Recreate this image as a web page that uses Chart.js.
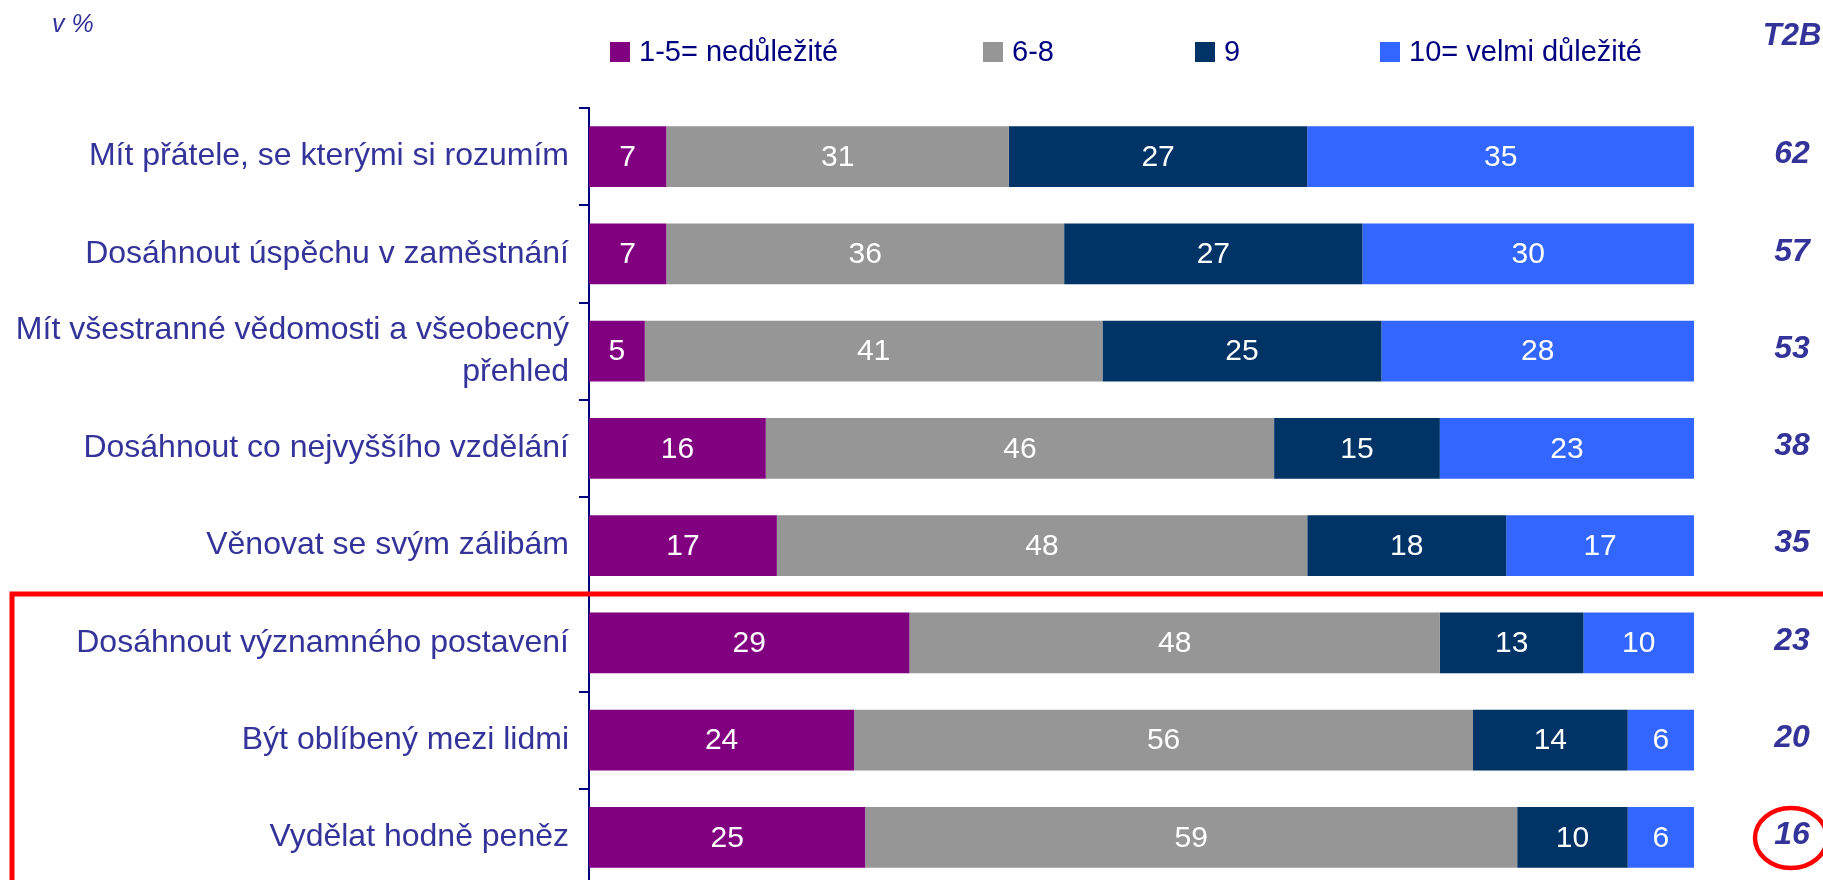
<!DOCTYPE html>
<html>
<head>
<meta charset="utf-8">
<script src="https://cdn.jsdelivr.net/npm/chart.js@4.4.1/dist/chart.umd.min.js"></script>
<style>
  html, body { margin: 0; padding: 0; background: #fff; }
  #wrap { position: relative; width: 1823px; height: 880px; overflow: hidden; }
  #myChart { position: absolute; left: 0; top: 0; }
</style>
</head>
<body>
<div id="wrap"><canvas id="myChart" width="1823" height="886"></canvas></div>
<script>
const categories = [
  'Mít přátele, se kterými si rozumím',
  'Dosáhnout úspěchu v zaměstnání',
  ['Mít všestranné vědomosti a všeobecný', 'přehled'],
  'Dosáhnout co nejvyššího vzdělání',
  'Věnovat se svým zálibám',
  'Dosáhnout významného postavení',
  'Být oblíbený mezi lidmi',
  'Vydělat hodně peněz'
];
const seriesNames = ['1-5= nedůležité', '6-8', '9', '10= velmi důležité'];
const low = [7, 7, 5, 16, 17, 29, 24, 25];
const mid = [31, 36, 41, 46, 48, 48, 56, 59];
const nine = [27, 27, 25, 15, 18, 13, 14, 10];
const ten = [35, 30, 28, 23, 17, 10, 6, 6];
const t2b = [62, 57, 53, 38, 35, 23, 20, 16];

const colors = ['#800080', '#969696', '#003366', '#3366FF'];
const font = "'Liberation Sans', Arial, sans-serif";

// 100% stacked: each row scaled to its own total
const series = [low, mid, nine, ten];
const totals = categories.map((c, i) => series.reduce((s, arr) => s + arr[i], 0));

const datasets = series.map((arr, k) => ({
  label: seriesNames[k],
  values: arr,
  data: arr.map((v, i) => v / totals[i] * 100),
  backgroundColor: colors[k],
  borderWidth: 0,
  barPercentage: 0.627,
  categoryPercentage: 1
}));

// value labels inside the bars
const barLabels = {
  id: 'barLabels',
  afterDatasetsDraw(chart) {
    const ctx = chart.ctx;
    ctx.save();
    ctx.fillStyle = '#fff';
    ctx.font = '30px ' + font;
    ctx.textAlign = 'center';
    ctx.textBaseline = 'middle';
    chart.data.datasets.forEach((ds, i) => {
      chart.getDatasetMeta(i).data.forEach((bar, j) => {
        ctx.fillText(ds.values[j], (bar.x + bar.base) / 2, bar.y + 1);
      });
    });
    ctx.restore();
  }
};

// legend, T2B column, note and red marks
const extras = {
  id: 'extras',
  afterDraw(chart) {
    const ctx = chart.ctx;
    ctx.save();

    const legendX = [610, 983, 1195, 1380];
    ctx.font = '29px ' + font;
    ctx.textBaseline = 'middle';
    ctx.textAlign = 'left';
    chart.data.datasets.forEach((ds, i) => {
      ctx.fillStyle = ds.backgroundColor;
      ctx.fillRect(legendX[i], 42, 20, 20);
      ctx.fillStyle = '#000080';
      ctx.fillText(ds.label, legendX[i] + 29, 53);
    });

    ctx.fillStyle = '#333399';
    ctx.font = 'italic 25px ' + font;
    ctx.fillText('v %', 52, 25);

    ctx.textAlign = 'center';
    ctx.font = 'italic bold 31px ' + font;
    ctx.fillText('T2B', 1792, 36);
    const meta = chart.getDatasetMeta(0);
    ctx.font = 'italic bold 32px ' + font;
    meta.data.forEach((bar, j) => {
      ctx.fillText(t2b[j], 1792, bar.y - 2);
    });

    ctx.strokeStyle = '#FF0000';
    ctx.lineWidth = 5;
    ctx.strokeRect(12, 594, 1900, 400);
    ctx.lineWidth = 4.5;
    ctx.beginPath();
    ctx.ellipse(1791, 838, 36, 30, 0, 0, Math.PI * 2);
    ctx.stroke();

    ctx.restore();
  }
};

const ctx = document.getElementById('myChart').getContext('2d');
const myChart = new Chart(ctx, {
  type: 'bar',
  data: { labels: categories, datasets: datasets },
  plugins: [barLabels, extras],
  options: {
    indexAxis: 'y',
    responsive: false,
    animation: false,
    layout: { padding: { top: 108, right: 129, bottom: 0, left: 0 } },
    plugins: {
      legend: { display: false },
      tooltip: { enabled: false }
    },
    scales: {
      x: { stacked: true, min: 0, max: 100, display: false },
      y: {
        stacked: true,
        afterFit: s => {
          s.width = 589;
          // labels must not push the plot area in
          s.paddingTop = 0;
          s.paddingBottom = 0;
        },
        border: { display: true, color: '#000080', width: 2 },
        grid: {
          drawOnChartArea: false,
          drawTicks: true,
          tickLength: 10,
          color: '#000080',
          lineWidth: 2
        },
        ticks: {
          color: '#333399',
          padding: 10,
          font: { family: font, size: 32, lineHeight: 1.3 }
        }
      }
    }
  }
});
</script>
</body>
</html>
